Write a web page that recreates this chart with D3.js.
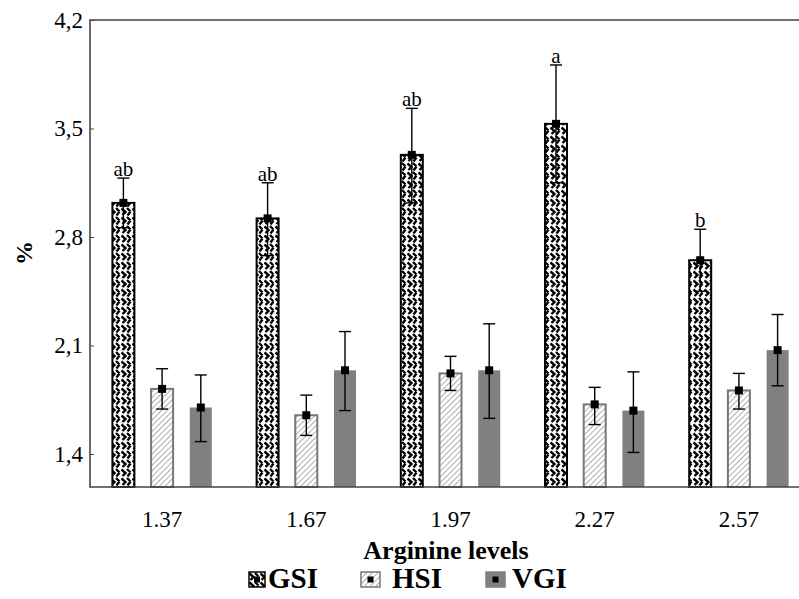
<!DOCTYPE html>
<html>
<head>
<meta charset="utf-8">
<script src="https://cdn.jsdelivr.net/npm/d3@7"></script>
<style>
  body { margin: 0; background: #fff; }
  svg { display: block; }
  text { font-family: "Liberation Serif", "Times New Roman", serif; }
</style>
</head>
<body>
<script>
// arginine levels on the x axis
var categories = ["1.37", "1.67", "1.97", "2.27", "2.57"];
var series = ["GSI", "HSI", "VGI"];

// means and error bar limits (%)
var gsi    = [3.02, 2.92, 3.33, 3.53, 2.65];
var gsiHi  = [3.18, 3.15, 3.63, 3.91, 2.85];
var gsiLo  = [2.86, 2.68, 3.02, 3.15, 2.45];
var hsi    = [1.82, 1.65, 1.92, 1.72, 1.81];
var hsiHi  = [1.95, 1.78, 2.03, 1.83, 1.92];
var hsiLo  = [1.69, 1.52, 1.81, 1.59, 1.69];
var vgi    = [1.70, 1.94, 1.94, 1.68, 2.07];
var vgiHi  = [1.91, 2.19, 2.24, 1.93, 2.30];
var vgiLo  = [1.48, 1.68, 1.63, 1.41, 1.84];
var letters = ["ab", "ab", "ab", "a", "b"];
var yTicks = [1.4, 2.1, 2.8, 3.5, 4.2];

var width = 799, height = 599;
var serif = "Liberation Serif, Times New Roman, serif";

var svg = d3.select("body").append("svg")
    .attr("width", width)
    .attr("height", height)
    .attr("font-family", serif);

var defs = svg.append("defs");

// woven pattern for GSI
var pg = defs.append("pattern")
    .attr("id", "weave")
    .attr("patternUnits", "userSpaceOnUse")
    .attr("width", 11).attr("height", 9);
pg.append("rect").attr("width", 11).attr("height", 9).attr("fill", "#fff");
pg.append("path")
    .attr("d", "M0.5,1.5 L4.5,5 L1.5,8 M6,1 L9.5,4.5 M9.5,4.5 L6.5,8.5")
    .attr("stroke", "#000").attr("stroke-width", 2.4).attr("fill", "none");

// hatch for HSI
var ph = defs.append("pattern")
    .attr("id", "hatch")
    .attr("patternUnits", "userSpaceOnUse")
    .attr("width", 4).attr("height", 4)
    .attr("patternTransform", "rotate(45)");
ph.append("rect").attr("width", 4).attr("height", 4).attr("fill", "#fff");
ph.append("line").attr("x1", 0).attr("y1", 0).attr("x2", 0).attr("y2", 4)
    .attr("stroke", "#9a9a9a").attr("stroke-width", 1.6);

var fills = {GSI: "url(#weave)", HSI: "url(#hatch)", VGI: "#808080"};
var strokes = {GSI: "#000", HSI: "#777", VGI: "none"};

var x = d3.scaleBand().domain(categories).range([90, 811]);
var xs = d3.scalePoint().domain(series).range([-38.7, 38.7]);
var y = d3.scaleLinear().domain([1.4, 4.2]).range([454, 20]);
var yBottom = 487;
var barW = 22;

// rows for drawing
var rows = [];
categories.forEach(function(c, i) {
    rows.push({cat: c, s: "GSI", v: gsi[i], hi: gsiHi[i], lo: gsiLo[i], i: i});
    rows.push({cat: c, s: "HSI", v: hsi[i], hi: hsiHi[i], lo: hsiLo[i], i: i});
    rows.push({cat: c, s: "VGI", v: vgi[i], hi: vgiHi[i], lo: vgiLo[i], i: i});
});
function cx(d) { return x(d.cat) + x.bandwidth() / 2 + xs(d.s); }

// bars
svg.append("g").selectAll("rect")
    .data(rows).enter().append("rect")
    .attr("x", function(d) { return cx(d) - barW / 2; })
    .attr("y", function(d) { return y(d.v); })
    .attr("width", barW)
    .attr("height", function(d) { return yBottom - y(d.v); })
    .attr("fill", function(d) { return fills[d.s]; })
    .attr("stroke", function(d) { return strokes[d.s]; })
    .attr("stroke-width", 2);

// error bars
var eb = svg.append("g").attr("stroke", "#000").attr("stroke-width", 1.4);
eb.selectAll("line.v").data(rows).enter().append("line")
    .attr("x1", cx).attr("x2", cx)
    .attr("y1", function(d) { return y(d.hi); })
    .attr("y2", function(d) { return y(d.lo); });
eb.selectAll("line.t").data(rows).enter().append("line")
    .attr("x1", function(d) { return cx(d) - 6; })
    .attr("x2", function(d) { return cx(d) + 6; })
    .attr("y1", function(d) { return y(d.hi); })
    .attr("y2", function(d) { return y(d.hi); });
eb.selectAll("line.b").data(rows).enter().append("line")
    .attr("x1", function(d) { return cx(d) - 6; })
    .attr("x2", function(d) { return cx(d) + 6; })
    .attr("y1", function(d) { return y(d.lo); })
    .attr("y2", function(d) { return y(d.lo); });

// mean markers
svg.append("g").selectAll("rect")
    .data(rows).enter().append("rect")
    .attr("x", function(d) { return cx(d) - 4; })
    .attr("y", function(d) { return y(d.v) - 4; })
    .attr("width", 8).attr("height", 8)
    .attr("fill", "#000");

// significance letters
svg.append("g").selectAll("text")
    .data(rows.filter(function(d) { return d.s == "GSI"; }))
    .enter().append("text")
    .attr("x", cx)
    .attr("y", function(d) { return y(d.hi) - 2; })
    .attr("text-anchor", "middle")
    .attr("font-family", serif)
    .attr("font-size", 21)
    .text(function(d) { return letters[d.i]; });

// frame
var frame = svg.append("g").attr("stroke", "#444").attr("stroke-width", 1.6).attr("fill", "none");
frame.append("path").attr("d", "M" + width + ",20 H90 V" + yBottom + " H" + width);

// y axis
var yAxis = d3.axisLeft(y)
    .tickValues(yTicks)
    .tickSizeInner(-4).tickSizeOuter(0).tickPadding(7)
    .tickFormat(function(v) { return d3.format(".1f")(v).replace(".", ","); });
var ya = svg.append("g").attr("transform", "translate(90,0)").call(yAxis);
ya.attr("font-family", serif);
ya.select(".domain").remove();
ya.selectAll("line").attr("stroke", "#444");
ya.selectAll("text").attr("font-size", 23).attr("fill", "#000");

// x axis labels
var xAxis = d3.axisBottom(x).tickSize(0).tickPadding(24);
var xa = svg.append("g").attr("transform", "translate(0," + yBottom + ")").call(xAxis);
xa.attr("font-family", serif);
xa.select(".domain").remove();
xa.selectAll("text").attr("font-size", 23).attr("fill", "#000");

// axis titles
svg.append("text")
    .attr("x", 446).attr("y", 559)
    .attr("text-anchor", "middle")
    .attr("font-size", 26).attr("font-weight", "bold")
    .text("Arginine levels");

svg.append("text")
    .attr("transform", "translate(32,253) rotate(-90)")
    .attr("text-anchor", "middle")
    .attr("font-size", 24).attr("font-weight", "bold")
    .text("%");

// legend
var legX = [249, 361, 486];
var legTx = [19, 31, 26];
var leg = svg.append("g").selectAll("g")
    .data(series).enter().append("g")
    .attr("transform", function(d, i) { return "translate(" + legX[i] + ",572)"; });
leg.append("rect")
    .attr("width", function(d, i) { return i == 0 ? 16 : 19; })
    .attr("height", 15)
    .attr("fill", function(d) { return fills[d]; })
    .attr("stroke", function(d) { return d == "VGI" ? "#808080" : strokes[d]; })
    .attr("stroke-width", 1.5);
leg.append("rect")
    .attr("x", function(d, i) { return i == 0 ? 5 : 6.5; }).attr("y", 4.5)
    .attr("width", 6).attr("height", 6)
    .attr("fill", "#000");
leg.append("text")
    .attr("x", function(d, i) { return legTx[i]; })
    .attr("y", 16)
    .attr("font-size", 29).attr("font-weight", "bold")
    .text(function(d) { return d; });
</script>
</body>
</html>
